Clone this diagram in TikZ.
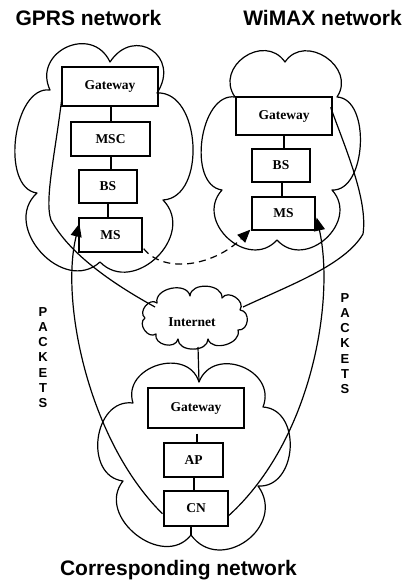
\documentclass[tikz,border=0pt]{standalone}
\usepackage{fontspec}
\setmainfont{Liberation Serif}
\newfontfamily\arialf{Liberation Sans}
\usetikzlibrary{arrows.meta,calc}
% one puff of a cloud outline, from point #1 to point #2, bulge factor #3
\newcommand\pf[3]{.. controls ($(#1)!#3!90:(#2)$) and ($(#2)!#3!-90:(#1)$) .. (#2)}
\begin{document}
\begin{tikzpicture}[x=1pt,y=-1pt,
  box/.style={draw, line width=1.3pt, inner sep=0pt, font=\bfseries\fontsize{13.5}{15}\selectfont},
  cloudline/.style={line width=1.2pt, line join=round},
  lbl/.style={inner sep=0pt, font=\bfseries\fontsize{13.5}{15}\selectfont},
  title/.style={font=\arialf\bfseries\fontsize{21}{24}\selectfont, inner sep=0pt},
  packets/.style={font=\arialf\bfseries\fontsize{13}{15.2}\selectfont, align=center, inner sep=0pt},
  conn/.style={line width=1.2pt},
  tip/.style={-{Triangle[length=13pt,width=11pt]}}]
\useasboundingbox (0,0) rectangle (407,583);
% titles
\node[title] (t1) at (88.5,18) {GPRS network};
\node[title] (t2) at (322.5,18) {WiMAX network};
\node[title] (t3) at (178.5,570) {Corresponding network};
% clouds
\draw[cloudline] (50,90) \pf{50,90}{110,62}{0.64} \pf{110,62}{157,93}{0.78}
  \pf{157,93}{163,200}{0.41} \pf{163,200}{100,262}{0.55} \pf{100,262}{37,193}{0.53}
  \pf{37,193}{50,90}{0.36} -- cycle;
\draw[cloudline] (235,97) \pf{235,97}{285,62}{0.6} \pf{285,62}{337,97}{0.57}
  \pf{337,97}{332,190}{0.37} \pf{332,190}{277,240}{0.57} \pf{277,240}{222,190}{0.57}
  \pf{222,190}{235,97}{0.38} -- cycle;
\draw[cloudline] (133,403) \pf{133,403}{199,382}{0.55} \pf{199,382}{263,407}{0.58}
  \pf{263,407}{258,486}{0.5} \pf{258,486}{191,535}{0.6} \pf{191,535}{123,481}{0.52}
  \pf{123,481}{133,403}{0.51} -- cycle;
\draw[cloudline] (157,303) \pf{157,303}{190,296}{0.45} \pf{190,296}{222,298}{0.45}
  \pf{222,298}{240,310}{0.5} \pf{240,310}{238,330}{0.55} \pf{238,330}{208,339}{0.45}
  \pf{208,339}{178,339}{0.45} \pf{178,339}{156,334}{0.5} \pf{156,334}{145,318}{0.5}
  \pf{145,318}{157,303}{0.5} -- cycle;
\node[lbl] (inet) at (192,322) {Internet};
% GPRS boxes
\node[box, minimum width=96pt, minimum height=39pt] (g1) at (110,86.5) {Gateway};
\node[box, minimum width=79pt, minimum height=34pt] (msc) at (110.5,139) {MSC};
\node[box, minimum width=58pt, minimum height=33pt] (bs1) at (108,186.5) {BS};
\node[box, minimum width=63pt, minimum height=34pt] (ms1) at (110.5,235) {MS};
% WiMAX boxes
\node[box, minimum width=96pt, minimum height=38pt] (g2) at (284,116) {Gateway};
\node[box, minimum width=58pt, minimum height=33pt] (bs2) at (281,165.5) {BS};
\node[box, minimum width=63pt, minimum height=33pt] (ms2) at (283.5,213.5) {MS};
% Corresponding boxes
\node[box, minimum width=96pt, minimum height=40pt] (g3) at (196,408) {Gateway};
\node[box, minimum width=59pt, minimum height=34pt] (ap) at (193.5,460) {AP};
\node[box, minimum width=64pt, minimum height=35pt] (cn) at (196,508.5) {CN};
% packets labels
\node[packets] (p1) at (43,357.5) {P\\A\\C\\K\\E\\T\\S};
\node[packets] (p2) at (345,343.5) {P\\A\\C\\K\\E\\T\\S};
% connection points on the clouds
\coordinate (inetL) at (155,307);
\coordinate (inetR) at (243,307);
\coordinate (inetB) at (198,347);
\coordinate (dip3) at (199,382);
\coordinate (dip3b) at (191,535);
% vertical links
\draw[conn] ([xshift=1pt]g1.south) -- ([xshift=1pt]g1.south |- msc.north);
\draw[conn] ([xshift=0.5pt]msc.south) -- ([xshift=0.5pt]msc.south |- bs1.north);
\draw[conn] (bs1.south) -- (bs1.south |- ms1.north);
\draw[conn] (g2.south) -- (g2.south |- bs2.north);
\draw[conn] ([xshift=1pt]bs2.south) -- ([xshift=1pt]bs2.south |- ms2.north);
\draw[conn] (inetB) -- (dip3);
\draw[conn] ([yshift=-5pt,xshift=1pt]g3.south) -- ([xshift=1pt]g3.south |- ap.north);
\draw[conn] ([xshift=0.5pt]ap.south) -- ([xshift=0.5pt]ap.south |- cn.north);
\draw[conn] ([xshift=-5pt]cn.south) -- (dip3b);
% gateways to internet
\draw[conn] ($(g1.south west)+(1,-13)$) .. controls (56,150) and (44,200) .. (51,220)
   .. controls (70,255) and (115,285) .. (inetL);
\draw[conn] ($(g2.north east)+(-2,11)$) .. controls (346,150) and (368,200) .. (363,234)
   .. controls (345,265) and (290,285) .. (inetR);
% packets arrows
\draw[conn,tip] ($(cn.south west)+(-1,-13)$) .. controls (88,440) and (60,300) .. ($(ms1.south west)+(1,-29)$);
\draw[conn,tip] ($(cn.south east)+(0,-11)$) .. controls (312,440) and (335,300) .. ($(ms2.south east)+(1,-13)$);
% dashed handover
\draw[conn,dashed,dash pattern=on 7pt off 5pt,tip] ($(ms1.south east)+(1,-4)$) .. controls (165,275) and (215,265) .. ($(ms2.south west)+(-1,-1)$);
\end{tikzpicture}
\end{document}
